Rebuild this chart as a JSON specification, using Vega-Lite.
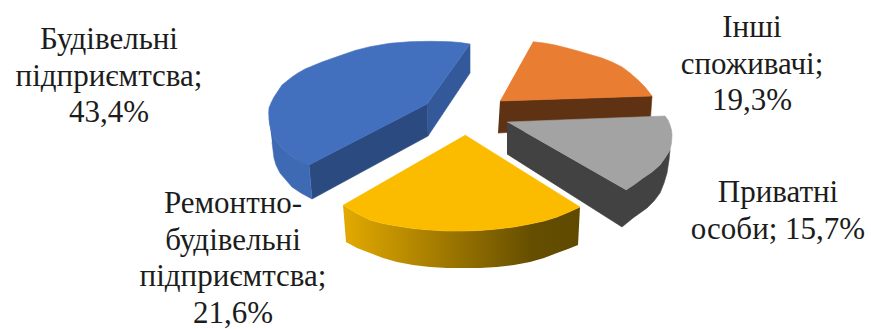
{
  "$schema": "https://vega.github.io/schema/vega-lite/v6.json",
  "width": 871,
  "height": 329,
  "padding": 0,
  "autosize": {"type": "none"},
  "background": "white",
  "view": {"stroke": null},
  "datasets": {
    "faces": [
      {"face":"orange side","u":500,"v":101},{"face":"orange side","u":652,"v":96},{"face":"orange side","u":650,"v":125},{"face":"orange side","u":498,"v":133},
      {"face":"orange top","u":533,"v":41.7},{"face":"orange top","u":544,"v":43},{"face":"orange top","u":555,"v":45},{"face":"orange top","u":567,"v":48},{"face":"orange top","u":578,"v":51},{"face":"orange top","u":590,"v":54.5},{"face":"orange top","u":602,"v":58},{"face":"orange top","u":612,"v":62},{"face":"orange top","u":622,"v":67},{"face":"orange top","u":630,"v":73},{"face":"orange top","u":638,"v":80},{"face":"orange top","u":645,"v":87},{"face":"orange top","u":652,"v":96},{"face":"orange top","u":500,"v":101},

      {"face":"blue inner","u":427,"v":104},{"face":"blue inner","u":470,"v":44},{"face":"blue inner","u":470,"v":73},{"face":"blue inner","u":428,"v":136},
      {"face":"blue front","u":309,"v":165},{"face":"blue front","u":427,"v":104},{"face":"blue front","u":428,"v":136},{"face":"blue front","u":312,"v":199},
      {"face":"blue outer","u":269,"v":118},{"face":"blue outer","u":270.5,"v":128},{"face":"blue outer","u":274,"v":138},{"face":"blue outer","u":282,"v":148},{"face":"blue outer","u":294,"v":158},{"face":"blue outer","u":309,"v":165},{"face":"blue outer","u":312,"v":199},{"face":"blue outer","u":301,"v":193},{"face":"blue outer","u":292,"v":187},{"face":"blue outer","u":286,"v":180},{"face":"blue outer","u":280,"v":173},{"face":"blue outer","u":276,"v":165},{"face":"blue outer","u":274,"v":158},{"face":"blue outer","u":272,"v":142},
      {"face":"blue top","u":470,"v":44},{"face":"blue top","u":460,"v":42.5},{"face":"blue top","u":450,"v":41.7},{"face":"blue top","u":430,"v":41.3},{"face":"blue top","u":410,"v":41.7},{"face":"blue top","u":390,"v":43.3},{"face":"blue top","u":370,"v":46.7},{"face":"blue top","u":355,"v":50.5},{"face":"blue top","u":339,"v":56},{"face":"blue top","u":322,"v":62},{"face":"blue top","u":305,"v":69},{"face":"blue top","u":298,"v":73},{"face":"blue top","u":292,"v":77},{"face":"blue top","u":287,"v":81},{"face":"blue top","u":282,"v":85},{"face":"blue top","u":278,"v":91},{"face":"blue top","u":274,"v":97},{"face":"blue top","u":271,"v":103},{"face":"blue top","u":269,"v":108},{"face":"blue top","u":268.7,"v":113},{"face":"blue top","u":269,"v":118},{"face":"blue top","u":269.5,"v":123},{"face":"blue top","u":270.5,"v":128},{"face":"blue top","u":272,"v":133},{"face":"blue top","u":274,"v":138},{"face":"blue top","u":278,"v":143},{"face":"blue top","u":282,"v":148},{"face":"blue top","u":288,"v":153},{"face":"blue top","u":294,"v":158},{"face":"blue top","u":301,"v":162},{"face":"blue top","u":309,"v":165},{"face":"blue top","u":427,"v":104},

      {"face":"gray side","u":507,"v":122},{"face":"gray side","u":626,"v":190},{"face":"gray side","u":635,"v":184},{"face":"gray side","u":643,"v":178},{"face":"gray side","u":652,"v":172},{"face":"gray side","u":660,"v":165},{"face":"gray side","u":665,"v":158},{"face":"gray side","u":670,"v":150},{"face":"gray side","u":669,"v":160},{"face":"gray side","u":667,"v":173},{"face":"gray side","u":664,"v":183},{"face":"gray side","u":660,"v":193},{"face":"gray side","u":654,"v":201},{"face":"gray side","u":647,"v":208},{"face":"gray side","u":640,"v":213},{"face":"gray side","u":633,"v":218},{"face":"gray side","u":622,"v":227},{"face":"gray side","u":507,"v":154},
      {"face":"gray top","u":507,"v":122},{"face":"gray top","u":665,"v":116},{"face":"gray top","u":668,"v":120},{"face":"gray top","u":670,"v":125},{"face":"gray top","u":671.5,"v":130},{"face":"gray top","u":672,"v":135},{"face":"gray top","u":671.5,"v":143},{"face":"gray top","u":670,"v":150},{"face":"gray top","u":665,"v":158},{"face":"gray top","u":660,"v":165},{"face":"gray top","u":652,"v":172},{"face":"gray top","u":643,"v":178},{"face":"gray top","u":635,"v":184},{"face":"gray top","u":626,"v":190},

      {"face":"yellow top","u":465,"v":135},{"face":"yellow top","u":580,"v":207},{"face":"yellow top","u":569,"v":212},{"face":"yellow top","u":557,"v":217},{"face":"yellow top","u":544,"v":221},{"face":"yellow top","u":530,"v":224},{"face":"yellow top","u":514,"v":227},{"face":"yellow top","u":497,"v":229},{"face":"yellow top","u":480,"v":230.5},{"face":"yellow top","u":463,"v":231},{"face":"yellow top","u":447,"v":231},{"face":"yellow top","u":430,"v":230},{"face":"yellow top","u":413,"v":228.5},{"face":"yellow top","u":397,"v":226},{"face":"yellow top","u":383,"v":223.5},{"face":"yellow top","u":370,"v":220},{"face":"yellow top","u":356,"v":213},{"face":"yellow top","u":343,"v":205}
    ],
    "gradientSides": [
      {"face":"yellow side","u":343,"v":205},{"face":"yellow side","u":356,"v":213},{"face":"yellow side","u":370,"v":220},{"face":"yellow side","u":383,"v":223.5},{"face":"yellow side","u":397,"v":226},{"face":"yellow side","u":413,"v":228.5},{"face":"yellow side","u":430,"v":230},{"face":"yellow side","u":447,"v":231},{"face":"yellow side","u":463,"v":231},{"face":"yellow side","u":480,"v":230.5},{"face":"yellow side","u":497,"v":229},{"face":"yellow side","u":514,"v":227},{"face":"yellow side","u":530,"v":224},{"face":"yellow side","u":544,"v":221},{"face":"yellow side","u":557,"v":217},{"face":"yellow side","u":569,"v":212},{"face":"yellow side","u":580,"v":207},{"face":"yellow side","u":578,"v":245},{"face":"yellow side","u":568,"v":249},{"face":"yellow side","u":557,"v":253},{"face":"yellow side","u":544,"v":258},{"face":"yellow side","u":530,"v":262},{"face":"yellow side","u":514,"v":265},{"face":"yellow side","u":497,"v":267},{"face":"yellow side","u":480,"v":268},{"face":"yellow side","u":463,"v":268},{"face":"yellow side","u":447,"v":268},{"face":"yellow side","u":430,"v":267},{"face":"yellow side","u":413,"v":265},{"face":"yellow side","u":397,"v":262},{"face":"yellow side","u":383,"v":258},{"face":"yellow side","u":370,"v":253},{"face":"yellow side","u":357,"v":248},{"face":"yellow side","u":346,"v":242}
    ],
    "labels": [
      {"text":"Будівельні\nпідприємтсва;\n43,4%","u":109,"v":49},
      {"text":"Ремонтно-\nбудівельні\nпідприємтсва;\n21,6%","u":233,"v":213},
      {"text":"Інші\nспоживачі;\n19,3%","u":752,"v":37},
      {"text":"Приватні\nособи; 15,7%","u":778,"v":202}
    ]
  },
  "layer": [
    {
      "data": {"name": "faces"},
      "transform": [{"filter": "datum.face == 'orange side' || datum.face == 'orange top'"}],
      "mark": {"type": "line", "strokeWidth": 0.6},
      "encoding": {
        "x": {"field": "u", "type": "quantitative", "scale": {"domain": [0, 871], "nice": false, "zero": false}, "axis": null},
        "y": {"field": "v", "type": "quantitative", "scale": {"domain": [329, 0], "nice": false, "zero": false}, "axis": null},
        "order": {"field": "none"},
        "fill": {"field": "face", "type": "nominal", "legend": null, "scale": {"domain": ["orange side","orange top","blue inner","blue front","blue outer","blue top","gray side","gray top","yellow top"], "range": ["#5F3214","#E97E33","#34599A","#2B4A7F","#3E69B3","#4270BF","#424242","#A3A3A3","#FBBC00"]}},
        "stroke": {"field": "face", "type": "nominal", "legend": null, "scale": {"domain": ["orange side","orange top","blue inner","blue front","blue outer","blue top","gray side","gray top","yellow top"], "range": ["#5F3214","#E97E33","#34599A","#2B4A7F","#3E69B3","#4270BF","#424242","#A3A3A3","#FBBC00"]}}
      }
    },
    {
      "data": {"name": "faces"},
      "transform": [{"filter": "datum.face != 'orange side' && datum.face != 'orange top' && datum.face != 'yellow top'"}],
      "mark": {"type": "line", "strokeWidth": 0.6},
      "encoding": {
        "x": {"field": "u", "type": "quantitative", "axis": null},
        "y": {"field": "v", "type": "quantitative", "axis": null},
        "order": {"field": "none"},
        "fill": {"field": "face", "type": "nominal", "legend": null},
        "stroke": {"field": "face", "type": "nominal", "legend": null}
      }
    },
    {
      "data": {"name": "gradientSides"},
      "mark": {
        "type": "line",
        "stroke": null,
        "fill": {
          "x1": 0, "y1": 0, "x2": 1, "y2": 0,
          "gradient": "linear",
          "stops": [
            {"offset": 0, "color": "#E3AA00"},
            {"offset": 0.5, "color": "#947000"},
            {"offset": 0.8, "color": "#654E00"},
            {"offset": 1, "color": "#5F4A00"}
          ]
        }
      },
      "encoding": {
        "x": {"field": "u", "type": "quantitative", "axis": null},
        "y": {"field": "v", "type": "quantitative", "axis": null},
        "order": {"field": "none"}
      }
    },
    {
      "data": {"name": "faces"},
      "transform": [{"filter": "datum.face == 'yellow top'"}],
      "mark": {"type": "line", "strokeWidth": 0.6},
      "encoding": {
        "x": {"field": "u", "type": "quantitative", "axis": null},
        "y": {"field": "v", "type": "quantitative", "axis": null},
        "order": {"field": "none"},
        "fill": {"field": "face", "type": "nominal", "legend": null},
        "stroke": {"field": "face", "type": "nominal", "legend": null}
      }
    },
    {
      "data": {"name": "labels"},
      "mark": {"type": "text", "font": "Liberation Serif", "fontSize": 31, "lineHeight": 36.7, "lineBreak": "\n", "align": "center", "baseline": "alphabetic", "color": "#1c1c1c"},
      "encoding": {
        "x": {"field": "u", "type": "quantitative", "axis": null},
        "y": {"field": "v", "type": "quantitative", "axis": null},
        "text": {"field": "text"}
      }
    }
  ]
}
